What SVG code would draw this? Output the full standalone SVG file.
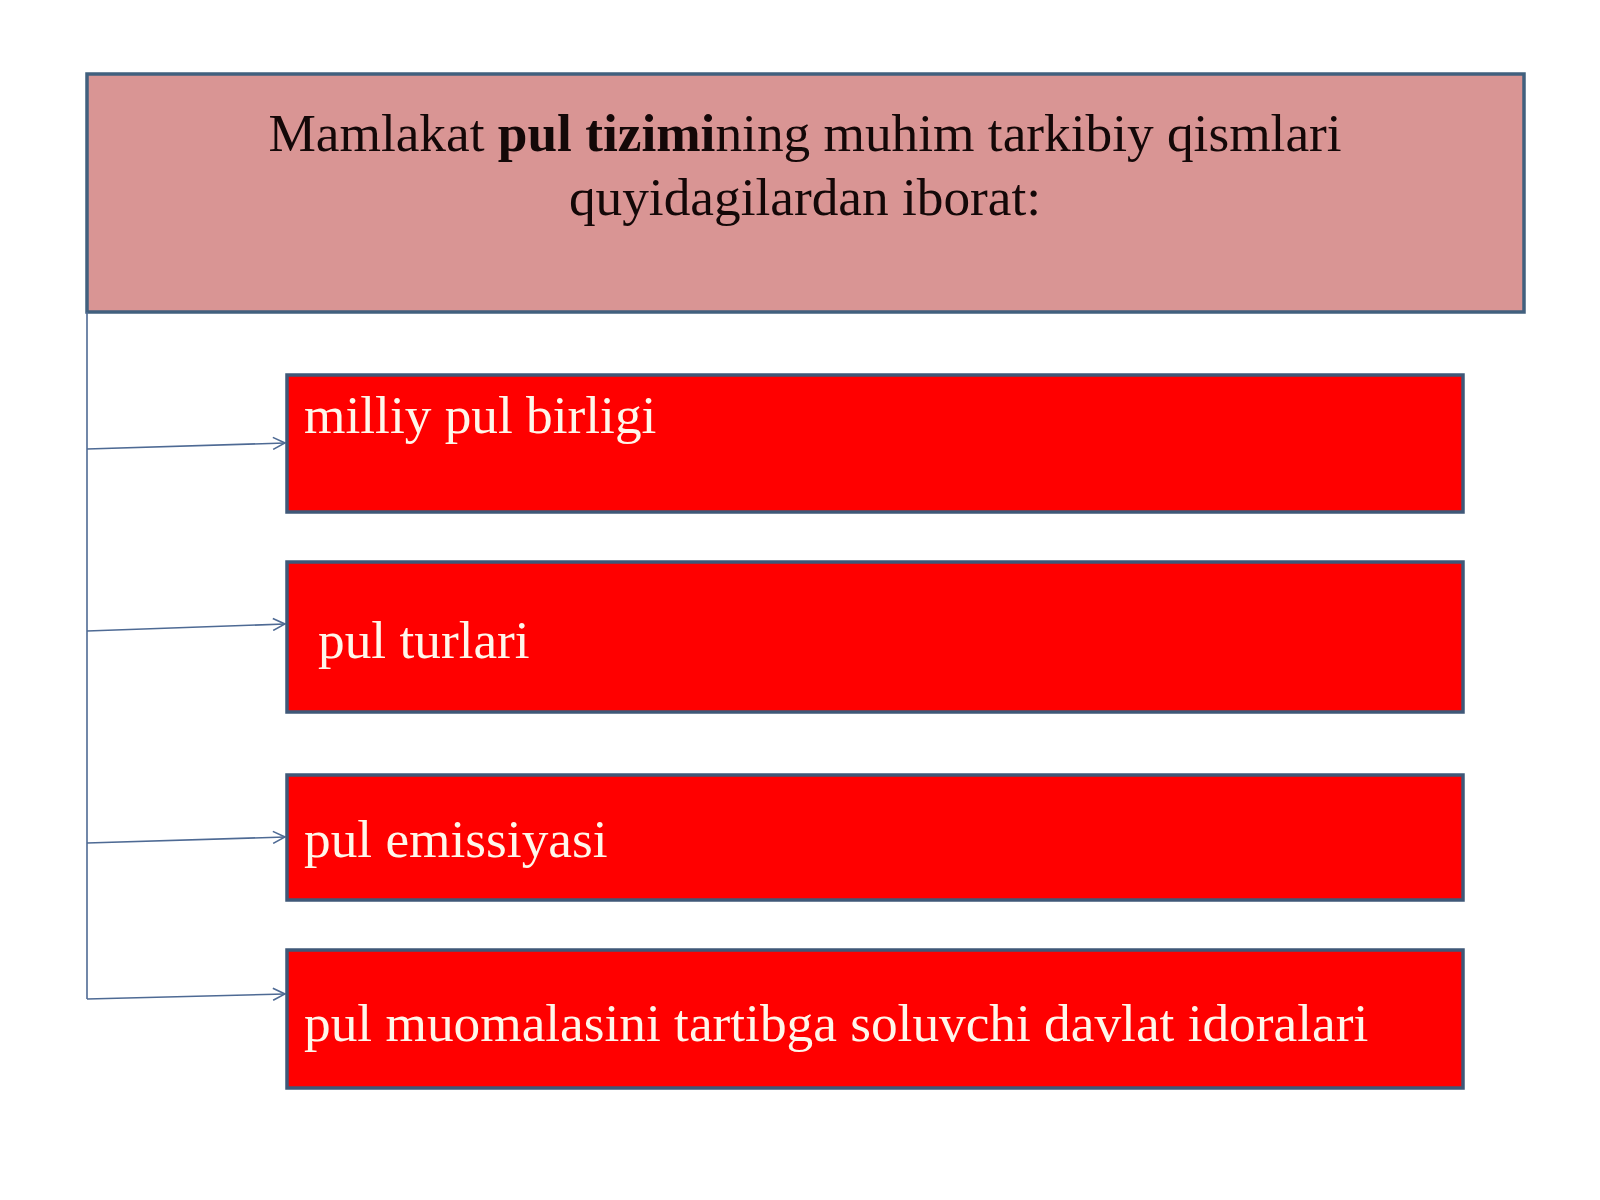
<svg xmlns="http://www.w3.org/2000/svg" width="1600" height="1200" viewBox="0 0 1600 1200">
  <style>
    .title { font-family: "Liberation Serif", "Times New Roman", serif; font-size: 53.3px; fill: #140808; }
    .item { font-family: "Liberation Serif", "Times New Roman", serif; font-size: 53.3px; fill: #fff6ea; }
    .redbox { fill: #ff0000; stroke: #3f5878; stroke-width: 3.5; }
    .conn { fill: none; stroke: #4e6a94; stroke-width: 1.6; }
  </style>
  <defs>
    <marker id="arrow" viewBox="0 0 14 14" refX="13" refY="7" markerWidth="14" markerHeight="14" markerUnits="userSpaceOnUse" orient="auto">
      <path d="M1,1 L13,7 L1,13" fill="none" stroke="#4e6a94" stroke-width="1.6"/>
    </marker>
  </defs>
  <rect x="0" y="0" width="1600" height="1200" fill="#ffffff"/>

  <g id="header">
    <rect x="87" y="74" width="1437" height="238" fill="#d99594" stroke="#41607e" stroke-width="3.5"/>
    <text class="title" x="805" y="151" text-anchor="middle">Mamlakat <tspan font-weight="bold">pul tizimi</tspan>ning muhim tarkibiy qismlari</text>
    <text class="title" x="805" y="215" text-anchor="middle">quyidagilardan iborat:</text>
  </g>

  <g id="connectors">
    <path class="conn" d="M87,312 L87,999"/>
    <path class="conn" d="M87,449 L285,443" marker-end="url(#arrow)"/>
    <path class="conn" d="M87,631 L285,624" marker-end="url(#arrow)"/>
    <path class="conn" d="M87,843 L285,837" marker-end="url(#arrow)"/>
    <path class="conn" d="M87,999 L285,994" marker-end="url(#arrow)"/>
  </g>

  <g id="node1">
    <rect class="redbox" x="287" y="375" width="1176" height="137"/>
    <text class="item" x="304" y="433">milliy pul birligi</text>
  </g>
  <g id="node2">
    <rect class="redbox" x="287" y="562" width="1176" height="150"/>
    <text class="item" x="318" y="658">pul turlari</text>
  </g>
  <g id="node3">
    <rect class="redbox" x="287" y="775" width="1176" height="125"/>
    <text class="item" x="304" y="857">pul emissiyasi</text>
  </g>
  <g id="node4">
    <rect class="redbox" x="287" y="950" width="1176" height="138"/>
    <text class="item" x="304" y="1041">pul muomalasini tartibga soluvchi davlat idoralari</text>
  </g>
</svg>
